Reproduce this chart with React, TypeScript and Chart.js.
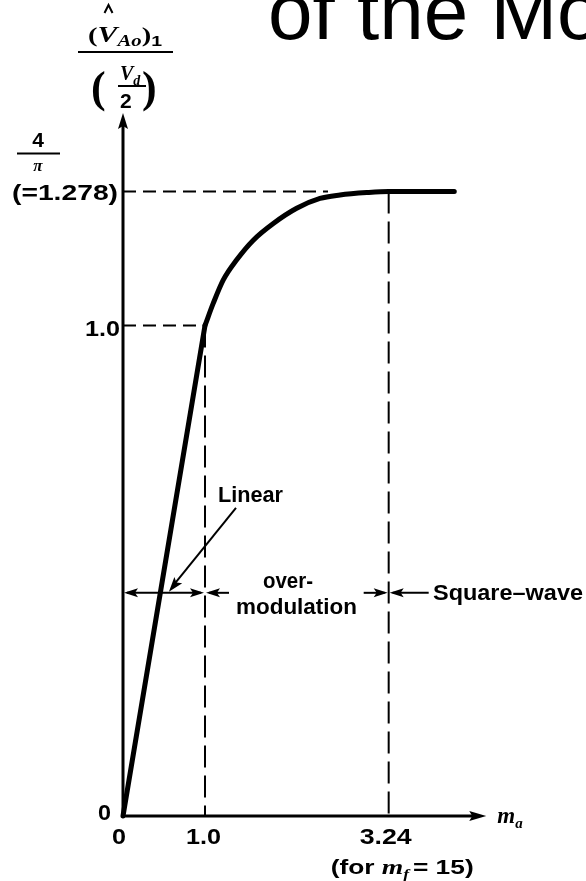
import React, { useEffect, useRef } from "react";
import { Chart, registerables } from "chart.js";

Chart.register(...registerables);

// ---- data ----
const FOUR_OVER_PI = 4 / Math.PI;
const LINEAR_X = [0, 1.0];
const LINEAR_Y = [0, 1.0];
const CURVE_X = [1.0, 1.1, 1.223, 1.387, 1.589, 1.833, 2.118, 2.402, 2.646, 2.972, 3.24, 4.04];
const CURVE_Y = [1.0, 1.045, 1.093, 1.134, 1.174, 1.208, 1.239, 1.259, 1.266, 1.271, FOUR_OVER_PI, FOUR_OVER_PI];
const X_TICKS = [0, 1.0, 3.24];
const X_TICK_LABELS = ["0", "1.0", "3.24"];
const Y_TICKS = [0, 1.0, FOUR_OVER_PI];
const Y_TICK_LABELS = ["0", "1.0", "(=1.278)"];
const X_MAX = 4.43;
const Y_MAX = 1.4332;
const REGION_ROW_Y = 0.455;
const TITLE_TEXT = "of the Mo";
const REGION_LABELS = ["Linear", "over-", "modulation", "Square–wave"];

const LABEL_FONT = "bold 22px 'Liberation Sans', Arial, sans-serif";
const SERIF_BI = (s: number) => `bold italic ${s}px 'Liberation Serif', 'Times New Roman', serif`;
const SERIF_B = (s: number) => `bold ${s}px 'Liberation Serif', 'Times New Roman', serif`;
const SANS_B = (s: number) => `bold ${s}px 'Liberation Sans', Arial, sans-serif`;

type Piece = { t: string; font: string; dy?: number; gap?: number };

function drawRun(ctx: CanvasRenderingContext2D, pieces: Piece[], left: number, baseline: number, targetWidth?: number) {
  let total = 0;
  const widths = pieces.map((p) => {
    ctx.font = p.font;
    const w = ctx.measureText(p.t).width + (p.gap || 0);
    total += w;
    return w;
  });
  const s = targetWidth ? targetWidth / total : 1;
  let x = left;
  const pos: number[] = [];
  pieces.forEach((p, i) => {
    ctx.save();
    ctx.font = p.font;
    ctx.textAlign = "left";
    ctx.textBaseline = "alphabetic";
    ctx.translate(x, baseline + (p.dy || 0));
    ctx.scale(s, 1);
    ctx.fillText(p.t, 0, 0);
    ctx.restore();
    pos.push(x);
    x += widths[i] * s;
  });
  return pos;
}

function line(ctx: CanvasRenderingContext2D, x1: number, y1: number, x2: number, y2: number) {
  ctx.beginPath();
  ctx.moveTo(x1, y1);
  ctx.lineTo(x2, y2);
  ctx.stroke();
}

function arrowHead(ctx: CanvasRenderingContext2D, tx: number, ty: number, angle: number, len: number, half: number) {
  ctx.save();
  ctx.translate(tx, ty);
  ctx.rotate(angle);
  ctx.beginPath();
  ctx.moveTo(0, 0);
  ctx.lineTo(-len, -half);
  ctx.lineTo(-len + 3, 0);
  ctx.lineTo(-len, half);
  ctx.closePath();
  ctx.fill();
  ctx.restore();
}

const diagramPlugin = {
  id: "diagram",
  beforeDatasetsDraw(chart: any) {
    const ctx: CanvasRenderingContext2D = chart.ctx;
    const xs = chart.scales.x;
    const ys = chart.scales.y;
    const px = (v: number) => xs.getPixelForValue(v);
    const py = (v: number) => ys.getPixelForValue(v);
    const x0 = px(0);
    const y0 = py(0);
    const top = py(Y_MAX);
    const right = px(X_MAX);
    ctx.save();
    ctx.strokeStyle = "#000";
    ctx.fillStyle = "#000";

    // dashed guide lines
    ctx.lineWidth = 2;
    ctx.setLineDash([13, 7]);
    line(ctx, x0, py(Y_TICKS[1]), px(X_TICKS[1]), py(Y_TICKS[1]));
    line(ctx, x0, py(Y_TICKS[2]), px(2.5), py(Y_TICKS[2]));
    ctx.setLineDash([22, 8]);
    line(ctx, px(X_TICKS[1]), py(Y_TICKS[1]), px(X_TICKS[1]), y0);
    line(ctx, px(X_TICKS[2]), py(Y_TICKS[2]), px(X_TICKS[2]), y0);
    ctx.setLineDash([]);

    // axes
    ctx.lineWidth = 3;
    line(ctx, x0, y0 + 1.5, x0, top + 10);
    arrowHead(ctx, x0, top, -Math.PI / 2, 16, 5);
    line(ctx, x0 - 1.5, y0, right - 10, y0);
    arrowHead(ctx, right, y0, 0, 17, 5);

    // region arrows
    const ry = py(REGION_ROW_Y);
    ctx.lineWidth = 2;
    line(ctx, x0 + 4, ry, px(X_TICKS[1]) - 4, ry);
    arrowHead(ctx, x0 + 1, ry, Math.PI, 14, 4.5);
    arrowHead(ctx, px(X_TICKS[1]) - 1, ry, 0, 14, 4.5);
    line(ctx, px(X_TICKS[1]) + 4, ry, px(X_TICKS[1]) + 24, ry);
    arrowHead(ctx, px(X_TICKS[1]) + 1, ry, Math.PI, 14, 4.5);
    line(ctx, px(X_TICKS[2]) - 25, ry, px(X_TICKS[2]) - 4, ry);
    arrowHead(ctx, px(X_TICKS[2]) - 1, ry, 0, 14, 4.5);
    line(ctx, px(X_TICKS[2]) + 4, ry, px(X_TICKS[2]) + 40, ry);
    arrowHead(ctx, px(X_TICKS[2]) + 1, ry, Math.PI, 14, 4.5);

    // "Linear" pointer
    const lx1 = px(1.378), ly1 = py(0.628);
    const lx2 = px(0.56), ly2 = py(0.457);
    line(ctx, lx1, ly1, lx2 + 4, ly2 - 6);
    arrowHead(ctx, lx2, ly2, Math.atan2(ly2 - ly1, lx2 - lx1), 15, 5);
    ctx.restore();
  },
  afterDatasetsDraw(chart: any) {
    const ctx: CanvasRenderingContext2D = chart.ctx;
    const xs = chart.scales.x;
    const ys = chart.scales.y;
    const px = (v: number) => xs.getPixelForValue(v);
    const py = (v: number) => ys.getPixelForValue(v);
    const x0 = px(0);
    const y0 = py(0);
    ctx.save();
    ctx.fillStyle = "#000";
    ctx.strokeStyle = "#000";

    // title fragment
    drawRun(ctx, [{ t: TITLE_TEXT, font: "80px 'Liberation Sans', Arial, sans-serif" }], 268, 39);

    // x tick labels
    drawRun(ctx, [{ t: X_TICK_LABELS[0], font: LABEL_FONT }], px(X_TICKS[0]) - 11, y0 + 28, 14);
    drawRun(ctx, [{ t: X_TICK_LABELS[1], font: LABEL_FONT }], px(X_TICKS[1]) - 19, y0 + 28, 35);
    drawRun(ctx, [{ t: X_TICK_LABELS[2], font: LABEL_FONT }], px(X_TICKS[2]) - 29, y0 + 28, 52);
    drawRun(
      ctx,
      [
        { t: "(for ", font: SANS_B(21) },
        { t: "m", font: SERIF_BI(22) },
        { t: "f", font: SERIF_BI(14), dy: 5, gap: 3 },
        { t: "= 15)", font: SANS_B(21) },
      ],
      px(X_TICKS[2]) - 58,
      y0 + 58,
      143
    );
    // x axis name
    drawRun(ctx, [{ t: "m", font: SERIF_BI(23) }, { t: "a", font: SERIF_BI(15), dy: 5 }], px(X_MAX) + 11, y0 + 7);

    // y tick labels
    drawRun(ctx, [{ t: Y_TICK_LABELS[0], font: LABEL_FONT }], x0 - 25, y0 + 4, 13);
    drawRun(ctx, [{ t: Y_TICK_LABELS[1], font: LABEL_FONT }], x0 - 38, py(Y_TICKS[1]) + 11, 35);
    drawRun(ctx, [{ t: Y_TICK_LABELS[2], font: LABEL_FONT }], x0 - 111, py(Y_TICKS[2]) + 9, 106);
    // 4/pi
    ctx.save();
    ctx.font = SANS_B(21);
    ctx.textAlign = "center";
    ctx.fillText("4", 38, py(Y_TICKS[2]) - 44);
    ctx.font = SERIF_BI(17);
    ctx.fillText("π", 38, py(Y_TICKS[2]) - 20);
    ctx.restore();
    ctx.lineWidth = 2;
    line(ctx, 17, py(Y_TICKS[2]) - 38, 60, py(Y_TICKS[2]) - 38);

    // y axis name: (V^_Ao)_1 / (V_d / 2)
    const pos = drawRun(
      ctx,
      [
        { t: "(", font: SERIF_B(22) },
        { t: "V", font: SERIF_BI(23) },
        { t: "Ao", font: SERIF_BI(16), dy: 4 },
        { t: ")", font: SERIF_B(22) },
        { t: "1", font: SANS_B(15), dy: 4 },
      ],
      88,
      42,
      74
    );
    ctx.lineWidth = 2;
    const hx = pos[1] + 11;
    ctx.beginPath();
    ctx.moveTo(hx - 4, 13);
    ctx.lineTo(hx, 5);
    ctx.lineTo(hx + 4, 13);
    ctx.stroke();
    line(ctx, 78, 52, 173, 52);
    drawRun(ctx, [{ t: "(", font: SERIF_B(44) }], 91, 102);
    drawRun(ctx, [{ t: ")", font: SERIF_B(44) }], 142, 102);
    drawRun(ctx, [{ t: "V", font: SERIF_BI(20) }, { t: "d", font: SERIF_BI(14), dy: 5 }], 120, 80);
    line(ctx, 118, 86, 146, 86);
    drawRun(ctx, [{ t: "2", font: SANS_B(21) }], 120, 108);

    // region labels
    drawRun(ctx, [{ t: REGION_LABELS[0], font: LABEL_FONT }], 218, 502, 65);
    drawRun(ctx, [{ t: REGION_LABELS[1], font: LABEL_FONT }], 263, 588, 50);
    drawRun(ctx, [{ t: REGION_LABELS[2], font: LABEL_FONT }], 236, 614, 121);
    drawRun(ctx, [{ t: REGION_LABELS[3], font: LABEL_FONT }], 433, 600, 150);
    ctx.restore();
  },
};

export default function App() {
  const ref = useRef<HTMLCanvasElement | null>(null);
  useEffect(() => {
    if (!ref.current) return;
    const chart = new Chart(ref.current, {
      type: "line",
      data: {
        datasets: [
          {
            data: LINEAR_X.map((x, i) => ({ x, y: LINEAR_Y[i] })),
            borderColor: "#000",
            borderWidth: 5,
            pointRadius: 0,
            tension: 0,
            borderCapStyle: "round",
            clip: false as any,
          },
          {
            data: CURVE_X.map((x, i) => ({ x, y: CURVE_Y[i] })),
            borderColor: "#000",
            borderWidth: 5,
            pointRadius: 0,
            cubicInterpolationMode: "monotone",
            borderCapStyle: "round",
            borderJoinStyle: "round",
            clip: false as any,
          },
        ],
      },
      options: {
        responsive: false,
        animation: false,
        devicePixelRatio: 1,
        layout: { padding: { left: 123, right: 586 - 123 - 82 * X_MAX, top: 113, bottom: 65 } },
        scales: {
          x: { type: "linear", min: 0, max: X_MAX, display: false },
          y: { type: "linear", min: 0, max: Y_MAX, display: false },
        },
        plugins: { legend: { display: false }, tooltip: { enabled: false } },
        events: [],
      },
      plugins: [diagramPlugin],
    });
    return () => chart.destroy();
  }, []);
  return (
    <div style={{ position: "absolute", left: 0, top: 0, width: 586, height: 881, background: "#fff" }}>
      <canvas ref={ref} width={586} height={881} />
    </div>
  );
}
